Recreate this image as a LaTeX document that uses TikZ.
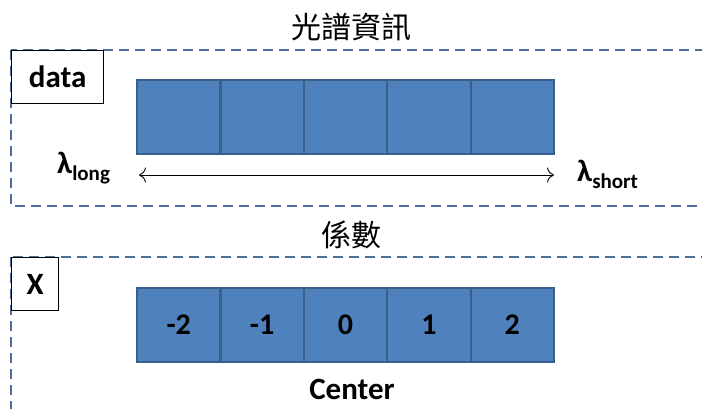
\documentclass[tikz,border=0pt]{standalone}
\usepackage{fontspec}
\setmainfont{Carlito}
\newfontfamily\cjk{Noto Sans CJK TC}
\usetikzlibrary{arrows.meta}
\definecolor{cellfill}{HTML}{4F81BD}
\definecolor{celledge}{HTML}{3A5F8C}
\definecolor{dashblue}{HTML}{4A6E9A}
\newcommand{\lowsub}[1]{\raisebox{-7pt}{\fontsize{21}{24}\selectfont #1}}
\begin{document}
\begin{tikzpicture}[x=1pt,y=-1pt,
  cell/.style={draw=celledge,fill=cellfill,line width=2.2pt,minimum width=83.4pt,minimum height=74pt,inner sep=0pt,
    font=\fontsize{30}{34}\selectfont\bfseries},
  tagbox/.style={draw=black,fill=white,line width=1.3pt,inner sep=0pt,font=\fontsize{31}{36}\selectfont\bfseries},
  frame/.style={draw=dashblue,line width=1.6pt,dash pattern=on 10pt off 6pt},
  lbl/.style={inner sep=0pt,font=\fontsize{31}{36}\selectfont\bfseries},
  title/.style={inner sep=0pt,font=\cjk\fontsize{30}{34}\selectfont}]
\useasboundingbox (0,0) rectangle (702,409);
\clip (0,0) rectangle (702,409);
% frames
\draw[frame] (11,50) rectangle (730,206);
\draw[frame] (11,257) rectangle (730,440);
% titles
\node[title] (t1) at (351,27) {光譜資訊};
\node[title] (t2) at (351,235) {係數};
% tag boxes
\node[tagbox,minimum width=92pt,minimum height=53pt,anchor=north west] (data) at (11,50) {data};
\node[tagbox,minimum width=47pt,minimum height=53pt,anchor=north west] (X) at (11,257) {X};
% top cells
\foreach \i/\x in {1/178.7,2/262.1,3/345.5,4/428.9,5/512.3}{
  \node[cell] (a\i) at (\x,117) {};
}
% bottom cells
\foreach \i/\x/\t in {1/178.7/-2,2/262.1/-1,3/345.5/0,4/428.9/1,5/512.3/2}{
  \node[cell] (b\i) at (\x,325) {\t};
}
% arrow
\coordinate (al) at (139,175);
\coordinate (ar) at (554,175);
\draw[{To[length=7pt,width=15pt]}-{To[length=7pt,width=15pt]},line width=0.9pt] (al) -- (ar);
% lambda labels
\node[lbl,anchor=base west] (ll) at (57,174) {λ\lowsub{long}};
\node[lbl,anchor=base west] (ls) at (577,182) {λ\lowsub{short}};
% center
\node[lbl] (c) at (352,389) {Center};
\end{tikzpicture}
\end{document}
